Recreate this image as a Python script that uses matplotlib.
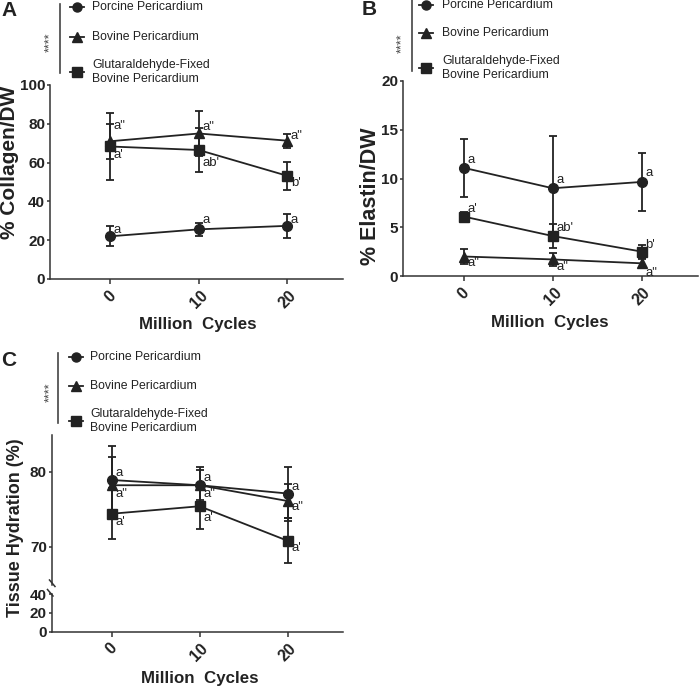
import matplotlib
matplotlib.use("Agg")
import matplotlib.pyplot as plt
from matplotlib.lines import Line2D

plt.rcParams['font.family'] = ['Liberation Sans', 'DejaVu Sans']

# ---------------- data ----------------
cycles = [0, 10, 20]
cycle_labels = ["0", "10", "20"]
series_names = ["Porcine Pericardium", "Bovine Pericardium",
                "Glutaraldehyde-Fixed\nBovine Pericardium"]

collagen_porcine = [22.0, 25.6, 27.4]
collagen_porcine_err = [5.2, 3.4, 6.2]
collagen_bovine = [71.0, 75.0, 71.3]
collagen_bovine_err = [9.0, 11.5, 3.6]
collagen_glut = [68.3, 66.5, 53.2]
collagen_glut_err = [17.2, 11.5, 7.2]

elastin_porcine = [11.1, 9.0, 9.65]
elastin_porcine_err = [3.0, 5.4, 2.95]
elastin_bovine = [2.0, 1.7, 1.3]
elastin_bovine_err = [0.8, 0.7, 0.45]
elastin_glut = [6.1, 4.1, 2.5]
elastin_glut_err = [0.5, 1.2, 0.7]

hydration_porcine = [78.9, 78.2, 77.1]
hydration_porcine_err = [4.6, 2.4, 3.6]
hydration_bovine = [78.2, 78.2, 76.1]
hydration_bovine_err = [3.8, 2.0, 2.3]
hydration_glut = [74.4, 75.4, 70.8]
hydration_glut_err = [3.4, 3.1, 3.0]

collagen_letters_porcine = ["a", "a", "a"]
collagen_letters_bovine = ["a\"", "a\"", "a\""]
collagen_letters_glut = ["a'", "ab'", "b'"]
elastin_letters_porcine = ["a", "a", "a"]
elastin_letters_bovine = ["a\"", "a\"", "a\""]
elastin_letters_glut = ["a'", "ab'", "b'"]
hydration_letters_porcine = ["a", "a", "a"]
hydration_letters_bovine = ["a\"", "a\"", "a\""]
hydration_letters_glut = ["a'", "a'", "a'"]

# ---------------- style ----------------
W, H = 700, 687
COL = "#222222"
SPC = "#333333"
fig = plt.figure(figsize=(W / 100, H / 100), dpi=100)


def fx(px):
    return px / W


def fy(py):
    return 1 - py / H


def axes_px(l, t, r, b):
    return fig.add_axes([fx(l), fy(b), fx(r - l), (b - t) / H])


markers = ["o", "^", "s"]
TICKFS = 11
XTICKFS = 11.5
XLABFS = 12.2
LEGFS = 8.8
ANNFS = 9.5


def style_ax(ax):
    for s in ["top", "right"]:
        ax.spines[s].set_visible(False)
    for s in ["left", "bottom"]:
        ax.spines[s].set_linewidth(1.1)
        ax.spines[s].set_color(SPC)
    ax.tick_params(axis="y", width=1.1, length=2.5, color=SPC, labelsize=TICKFS,
                   labelcolor=COL, pad=1)
    ax.tick_params(axis="x", width=1.1, length=3.5, color=SPC, labelsize=XTICKFS,
                   labelcolor=COL, pad=3)
    for lab in ax.get_yticklabels():
        lab.set_fontweight("bold")


def plot_series(ax, ys, errs, m):
    ax.errorbar(cycles, ys, yerr=errs, marker=m, color=COL, ms=7 if m != "^" else 7.5,
                lw=1.3, elinewidth=1.3, capsize=2.7, capthick=1.3, clip_on=False, zorder=3)


def xticks(ax):
    ax.set_xticks(cycles)
    ax.set_xticklabels(cycle_labels, rotation=45, ha="center", va="top",
                       fontweight="bold", fontsize=XTICKFS)


def annotate(ax, letters, ys, offs):
    for x, y, t, o in zip(cycles, ys, letters, offs):
        ax.text(x + 0.4, y + o, t, fontsize=ANNFS, color=COL, ha="left", va="center")


def legend_block(vline_x, vt, vb, star_x, star_y, mk_x, tx_x, rows):
    fig.add_artist(Line2D([fx(vline_x), fx(vline_x)], [fy(vt), fy(vb)], color="#444444", lw=1.2))
    fig.text(fx(star_x), fy(star_y), "****", rotation=90, fontsize=9, color="#444444",
             ha="center", va="center")
    for m, name, (my, ty) in zip(markers, series_names, rows):
        fig.add_artist(Line2D([fx(mk_x - 7), fx(mk_x + 7)], [fy(my), fy(my)], color=COL, lw=1.3))
        fig.add_artist(Line2D([fx(mk_x)], [fy(my)], marker=m, color=COL, ms=6.5))
        fig.text(fx(tx_x), fy(ty), name, fontsize=LEGFS, color=COL, ha="left",
                 va="center", linespacing=1.2)


def ylab(x, y, s, fs):
    fig.text(fx(x), fy(y), s, rotation=90, fontsize=fs, fontweight="bold",
             color=COL, ha="center", va="center")


def xlab(x, y, s):
    fig.text(fx(x), fy(y), s, fontsize=XLABFS, fontweight="bold",
             color=COL, ha="center", va="center")


# ---------------- Panel A ----------------
axA = axes_px(50, 85, 343, 279)
plot_series(axA, collagen_porcine, collagen_porcine_err, "o")
plot_series(axA, collagen_bovine, collagen_bovine_err, "^")
plot_series(axA, collagen_glut, collagen_glut_err, "s")
axA.set_xlim(-6.8, 26.3)
axA.set_ylim(0, 100)
axA.set_yticks([0, 20, 40, 60, 80, 100])
style_ax(axA)
xticks(axA)
ylab(10, 162, "% Collagen/DW", 15)
xlab(198, 325, "Million  Cycles")
annotate(axA, collagen_letters_porcine, collagen_porcine, [3.5, 4.8, 2.8])
annotate(axA, collagen_letters_bovine, collagen_bovine, [8.0, 3.5, 2.5])
annotate(axA, collagen_letters_glut, collagen_glut, [-4.5, -6.5, -3.8])
fig.text(fx(9), fy(10), "A", fontsize=15, fontweight="bold", color=COL, ha="center", va="center")
legend_block(60, 4, 73, 50, 42, 77, 92, [(7, 7), (37, 37), (72, 72)])

# ---------------- Panel B ----------------
axB = axes_px(403, 81, 698, 276)
plot_series(axB, elastin_porcine, elastin_porcine_err, "o")
plot_series(axB, elastin_bovine, elastin_bovine_err, "^")
plot_series(axB, elastin_glut, elastin_glut_err, "s")
axB.set_xlim(-6.8, 26.3)
axB.set_ylim(0, 20)
axB.set_yticks([0, 5, 10, 15, 20])
style_ax(axB)
xticks(axB)
ylab(370, 196, "% Elastin/DW", 15.5)
xlab(550, 322, "Million  Cycles")
annotate(axB, elastin_letters_porcine, elastin_porcine, [0.8, 0.85, 0.95])
annotate(axB, elastin_letters_bovine, elastin_bovine, [-0.7, -0.8, -1.0])
annotate(axB, elastin_letters_glut, elastin_glut, [0.8, 0.8, 0.7])
fig.text(fx(369.5), fy(9.5), "B", fontsize=15, fontweight="bold", color=COL, ha="center", va="center")
legend_block(411.5, 0, 71, 402.5, 43, 426, 442, [(5, 5), (33, 33), (68, 68)])

# ---------------- Panel C (broken axis) ----------------
axC = axes_px(51.7, 435, 343, 585)
axC2 = axes_px(51.7, 594, 343, 631.7)
plot_series(axC, hydration_porcine, hydration_porcine_err, "o")
plot_series(axC, hydration_bovine, hydration_bovine_err, "^")
plot_series(axC, hydration_glut, hydration_glut_err, "s")
for ax in (axC, axC2):
    ax.set_xlim(-6.8, 26.3)
    style_ax(ax)
axC.set_ylim(64.9, 84.9)
axC.set_yticks([70, 80])
axC.spines["bottom"].set_visible(False)
axC.tick_params(axis="x", bottom=False, labelbottom=False)
for lab in axC.get_yticklabels():
    lab.set_fontweight("bold")
axC2.set_ylim(0, 40)
axC2.set_yticks([0, 20, 40])
for lab in axC2.get_yticklabels():
    lab.set_fontweight("bold")
xticks(axC2)
xlab(199.5, 678, "Million  Cycles")
annotate(axC, hydration_letters_porcine, hydration_porcine, [0.9, 1.0, 0.9])
annotate(axC, hydration_letters_bovine, hydration_bovine, [-1.2, -1.2, -0.8])
annotate(axC, hydration_letters_glut, hydration_glut, [-1.1, -1.6, -1.0])
ylab(16, 528, "Tissue Hydration (%)", 13)
# break marks
for (x0, y0, x1, y1) in [(49.5, 580, 55, 586.5), (47.5, 589.5, 53, 596)]:
    fig.add_artist(Line2D([fx(x0), fx(x1)], [fy(y0), fy(y1)], color=SPC, lw=1.1))
fig.text(fx(8.5), fy(360), "C", fontsize=15, fontweight="bold", color=COL, ha="center", va="center")
legend_block(58.3, 353, 423, 50, 392, 76, 90, [(356.7, 356.7), (385.7, 385.7), (420.7, 421)])

fig.savefig("out.png", dpi=100)
